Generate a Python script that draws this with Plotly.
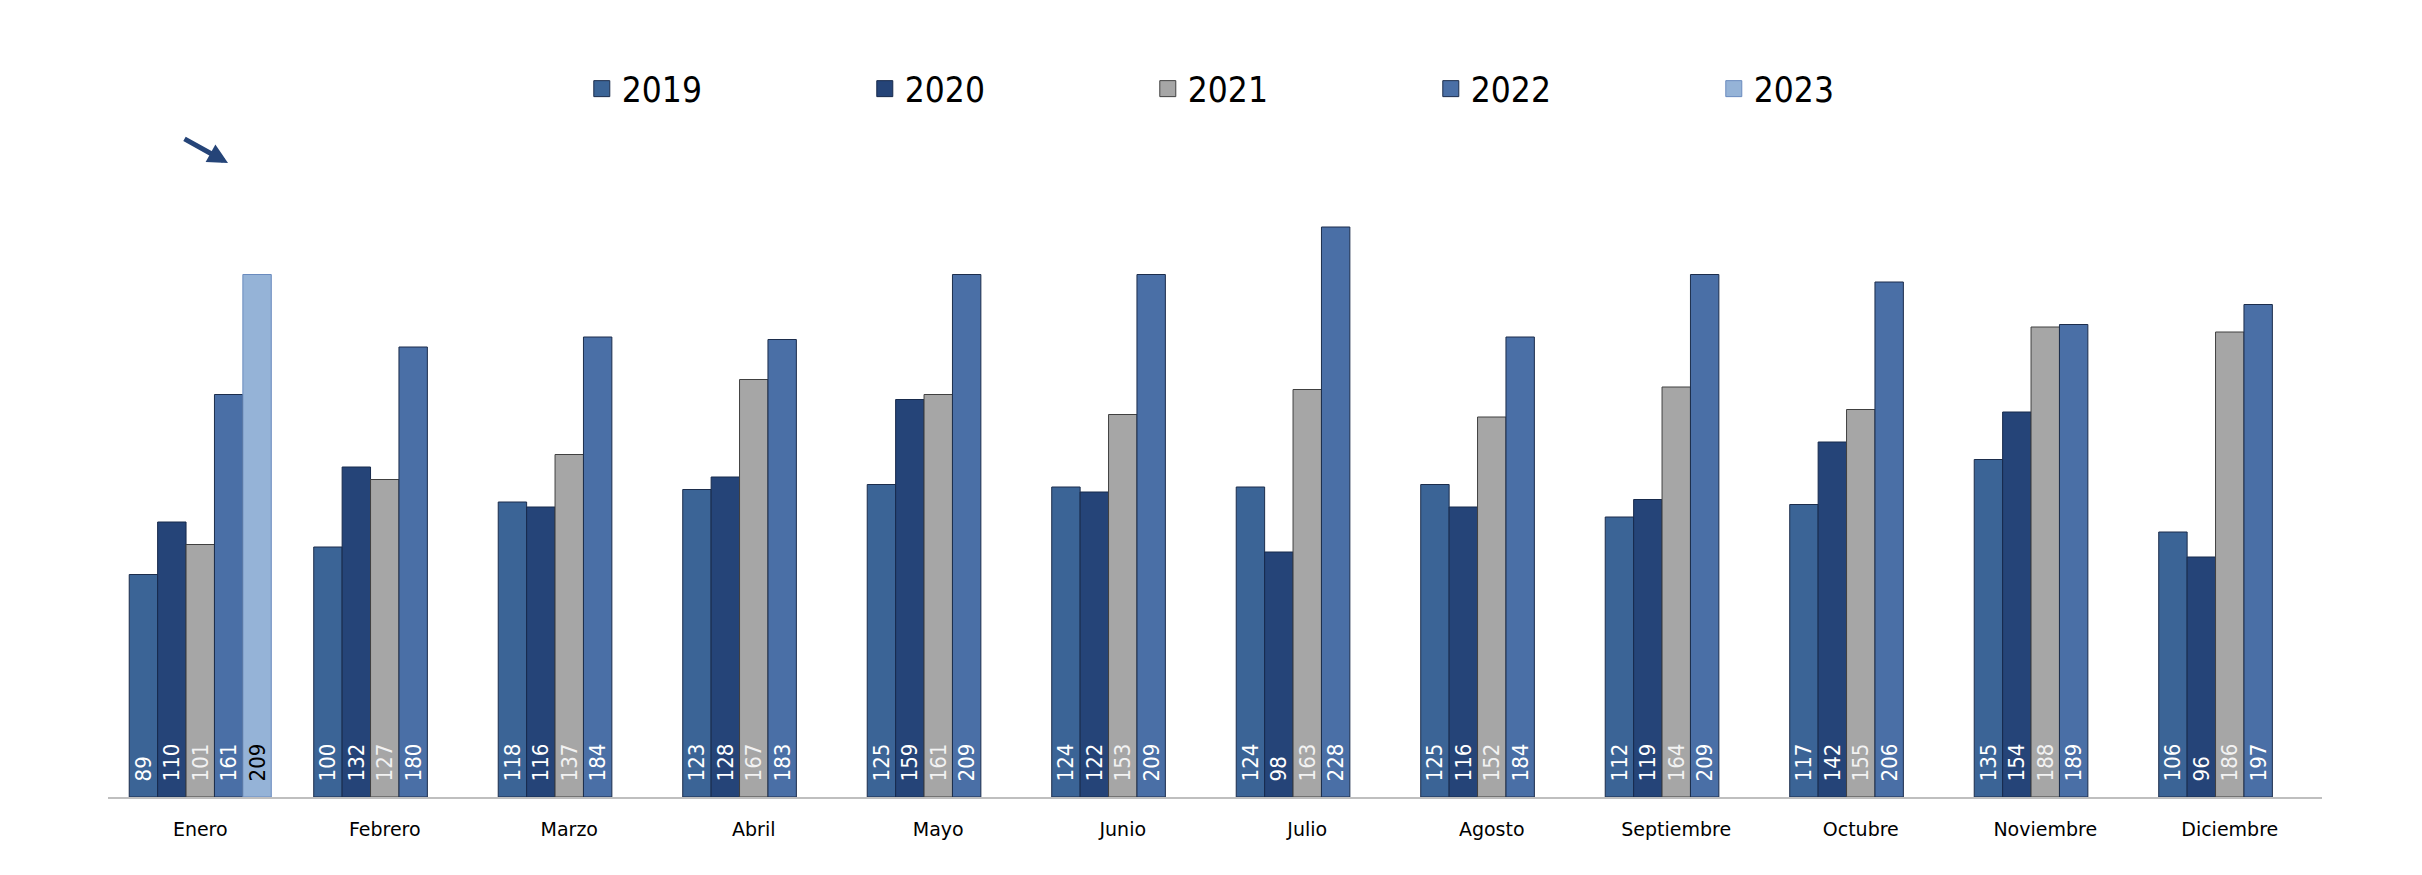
import plotly.graph_objects as go

months = ["Enero", "Febrero", "Marzo", "Abril", "Mayo", "Junio", "Julio",
          "Agosto", "Septiembre", "Octubre", "Noviembre", "Diciembre"]
years = ["2019", "2020", "2021", "2022", "2023"]
v2019 = [89, 100, 118, 123, 125, 124, 124, 125, 112, 117, 135, 106]
v2020 = [110, 132, 116, 128, 159, 122, 98, 116, 119, 142, 154, 96]
v2021 = [101, 127, 137, 167, 161, 153, 163, 152, 164, 155, 188, 186]
v2022 = [161, 180, 184, 183, 209, 209, 228, 184, 209, 206, 189, 197]
v2023 = [209]
series = [v2019, v2020, v2021, v2022, v2023]

fills = ["#3B6496", "#254478", "#A6A6A6", "#4A6FA6", "#95B3D7"]
lines = ["#1C2D4C", "#172A4C", "#404040", "#1C2D4C", "#6A8BBE"]
txtcol = ["white", "white", "#F2F2F2", "white", "black"]

LABFONT = "Liberation Sans Narrow, DejaVu Sans Condensed, Roboto, sans-serif"

fig = go.Figure()
for name, vals, fc, lc, tc in zip(years, series, fills, lines, txtcol):
    fig.add_trace(go.Bar(
        x=months[:len(vals)], y=vals, name=name,
        marker=dict(color=fc, line=dict(color=lc, width=1)),
        text=["\u00a0\u00a0" + str(v) for v in vals],
        textposition="inside", insidetextanchor="start", textangle=-90,
        textfont=dict(family=LABFONT, size=22, color=tc),
        showlegend=False, hoverinfo="x+y+name",
    ))
    fig.add_trace(go.Scatter(
        x=[None], y=[None], mode="markers", name=name,
        marker=dict(symbol="square", size=16, color=fc, line=dict(color=lc, width=1)),
        showlegend=True,
    ))

fig.update_layout(
    width=2406, height=859,
    paper_bgcolor="white", plot_bgcolor="white",
    margin=dict(l=100, r=92, t=164, b=70),
    barmode="group", bargap=0.23, bargroupgap=0,
    uniformtext=dict(minsize=22, mode="show"),
    legend=dict(
        orientation="h", x=0.214, xanchor="left", y=1.133, yanchor="middle",
        font=dict(family=LABFONT, size=35, color="black"),
        entrywidth=238, entrywidthmode="pixels",
        itemclick=False, itemdoubleclick=False,
    ),
    xaxis=dict(
        type="category", showgrid=False, ticks="",
        showline=True, linecolor="#BFBFBF", linewidth=2,
        tickfont=dict(family="DejaVu Sans, Verdana, sans-serif", size=19, color="black"),
        ticklabelstandoff=14,
    ),
    yaxis=dict(range=[0, 250], visible=False, showgrid=False, zeroline=False),
    annotations=[dict(
        xref="paper", yref="paper", x=0.0542, y=1.0144,
        ax=-45, ay=-25, text="", showarrow=True,
        arrowhead=2, arrowsize=0.8, arrowwidth=5, arrowcolor="#254478",
    )],
)

fig.write_html("out.html")
